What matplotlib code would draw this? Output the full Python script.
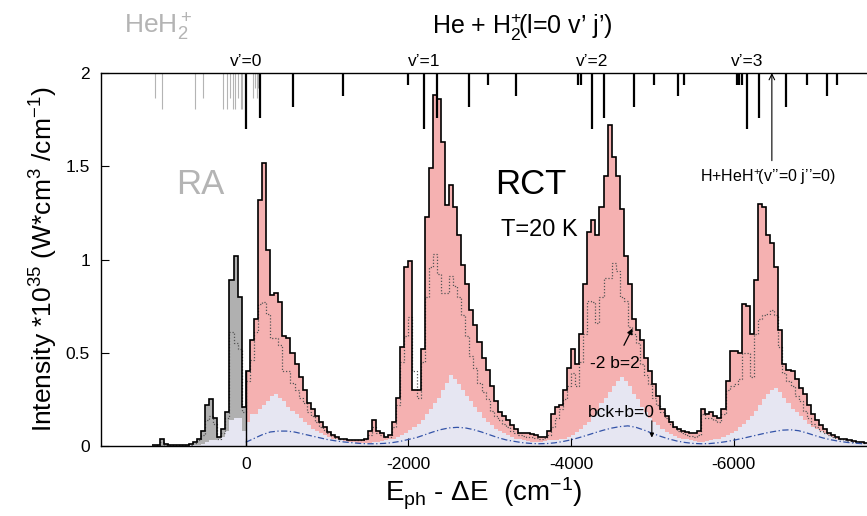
import numpy as np
import matplotlib
matplotlib.use("Agg")
import matplotlib.pyplot as plt
from matplotlib.transforms import blended_transform_factory

plt.rcParams["font.family"] = ["Liberation Sans", "DejaVu Sans"]
plt.rcParams["mathtext.fontset"] = "custom"
plt.rcParams["mathtext.rm"] = "Liberation Sans"
plt.rcParams["mathtext.it"] = "Liberation Sans:italic"
plt.rcParams["mathtext.bf"] = "Liberation Sans:bold"
plt.rcParams["axes.unicode_minus"] = False

BIN = 50  # cm-1

# RA (HeH2+) histogram, bins going up from 0: [0,50], [50,100], ...
ra_total = [0.21, 0.80, 1.02, 0.89, 0.18, 0.09, 0.05, 0.15, 0.25, 0.22, 0.08, 0.04,
            0.02, 0.01, 0.008, 0.006, 0.006, 0.005, 0.005, 0.01, 0.035, 0.005, 0.003]
ra_b2 = [0.18, 0.52, 0.55, 0.61, 0.15, 0.07, 0.04, 0.12, 0.16, 0.14, 0.06, 0.03,
         0.015, 0.008, 0.006, 0.005, 0.005, 0.004, 0.004, 0.006, 0.02, 0.004, 0.002]
ra_bck = [0.08, 0.15, 0.15, 0.14, 0.08, 0.05, 0.04, 0.03, 0.03, 0.02, 0.01, 0.005,
          0.004, 0.003, 0.002, 0.002, 0.002, 0.002, 0.002, 0.002, 0.002, 0.001, 0.001]

# RCT histogram, bins going down from 0: [0,-50], [-50,-100], ...
rct_total = [
    0.40, 0.57, 0.68, 1.32, 1.52, 1.05, 0.81, 0.82, 0.77, 0.59,
    0.58, 0.50, 0.44, 0.37, 0.30, 0.23, 0.20, 0.16, 0.13, 0.10,
    0.075, 0.06, 0.05, 0.04, 0.035, 0.03, 0.03, 0.03, 0.03, 0.04,
    0.08, 0.14, 0.08, 0.07, 0.05, 0.06, 0.13, 0.26, 0.53, 0.96,
    0.99, 0.30, 0.30, 0.52, 1.23, 1.49, 1.88, 1.86, 1.63, 1.29,
    1.40, 1.28, 1.13, 0.97, 0.87, 0.73, 0.65, 0.56, 0.47, 0.41,
    0.32, 0.24, 0.18, 0.16, 0.14, 0.11, 0.09, 0.07, 0.07, 0.07,
    0.065, 0.06, 0.05, 0.05, 0.08, 0.17, 0.21, 0.22, 0.30, 0.42,
    0.52, 0.44, 0.60, 0.87, 1.15, 1.21, 1.13, 1.28, 1.45, 1.72,
    1.55, 1.45, 1.27, 1.02, 0.87, 0.68, 0.62, 0.57, 0.47, 0.40,
    0.33, 0.27, 0.20, 0.16, 0.13, 0.10, 0.09, 0.08, 0.075, 0.07,
    0.07, 0.08, 0.20, 0.17, 0.18, 0.16, 0.15, 0.20, 0.35, 0.51,
    0.51, 0.50, 0.76, 0.75, 0.60, 0.89, 1.30, 1.28, 1.13, 1.09,
    0.96, 0.62, 0.44, 0.41, 0.40, 0.36, 0.31, 0.28, 0.22, 0.17,
    0.14, 0.11, 0.09, 0.07, 0.06, 0.05, 0.04, 0.035, 0.03, 0.025,
    0.02, 0.02, 0.015,
]
rct_b2 = [
    0.35, 0.46, 0.61, 0.76, 0.77, 0.71, 0.58, 0.58, 0.54, 0.40,
    0.40, 0.34, 0.30, 0.26, 0.23, 0.18, 0.16, 0.13, 0.10, 0.085,
    0.07, 0.055, 0.045, 0.04, 0.035, 0.03, 0.03, 0.03, 0.03, 0.035,
    0.06, 0.10, 0.07, 0.06, 0.05, 0.05, 0.10, 0.22, 0.45, 0.59,
    0.69, 0.40, 0.26, 0.45, 0.80, 0.96, 1.03, 0.92, 0.82, 0.82,
    0.91, 0.86, 0.80, 0.70, 0.59, 0.48, 0.42, 0.34, 0.29, 0.25,
    0.19, 0.16, 0.14, 0.12, 0.10, 0.08, 0.07, 0.06, 0.055, 0.05,
    0.05, 0.045, 0.04, 0.045, 0.06, 0.10, 0.15, 0.20, 0.25, 0.32,
    0.39, 0.32, 0.45, 0.60, 0.78, 0.77, 0.66, 0.80, 0.90, 0.90,
    0.98, 0.94, 0.80, 0.78, 0.64, 0.60, 0.55, 0.44, 0.38, 0.33,
    0.26, 0.22, 0.18, 0.15, 0.12, 0.10, 0.08, 0.07, 0.06, 0.055,
    0.05, 0.06, 0.17, 0.15, 0.15, 0.14, 0.13, 0.17, 0.30, 0.32,
    0.33, 0.36, 0.50, 0.50, 0.37, 0.60, 0.68, 0.70, 0.71, 0.73,
    0.70, 0.53, 0.39, 0.35, 0.32, 0.27, 0.24, 0.19, 0.15, 0.12,
    0.10, 0.08, 0.07, 0.06, 0.05, 0.045, 0.04, 0.03, 0.025, 0.02,
    0.02, 0.015, 0.015,
]
rct_bck = [
    0.13, 0.17, 0.17, 0.20, 0.22, 0.24, 0.27, 0.28, 0.26, 0.24,
    0.21, 0.19, 0.17, 0.15, 0.13, 0.11, 0.09, 0.08, 0.07, 0.06,
    0.05, 0.04, 0.035, 0.03, 0.025, 0.02, 0.02, 0.015, 0.015, 0.015,
    0.015, 0.02, 0.02, 0.025, 0.03, 0.035, 0.04, 0.05, 0.06, 0.07,
    0.085, 0.10, 0.12, 0.14, 0.17, 0.20, 0.23, 0.26, 0.30, 0.34,
    0.38, 0.36, 0.33, 0.30, 0.27, 0.24, 0.21, 0.18, 0.15, 0.13,
    0.11, 0.09, 0.08, 0.07, 0.06, 0.05, 0.04, 0.035, 0.03, 0.025,
    0.02, 0.02, 0.02, 0.025, 0.03, 0.03, 0.03, 0.035, 0.04, 0.05,
    0.06, 0.075, 0.09, 0.11, 0.13, 0.16, 0.19, 0.23, 0.26, 0.29,
    0.32, 0.35, 0.37, 0.35, 0.32, 0.28, 0.25, 0.21, 0.18, 0.15,
    0.13, 0.11, 0.09, 0.075, 0.065, 0.055, 0.045, 0.04, 0.035, 0.03,
    0.025, 0.02, 0.02, 0.025, 0.03, 0.035, 0.04, 0.05, 0.06, 0.07,
    0.08, 0.10, 0.12, 0.14, 0.16, 0.19, 0.22, 0.25, 0.28, 0.30,
    0.31, 0.29, 0.26, 0.23, 0.20, 0.18, 0.16, 0.14, 0.12, 0.10,
    0.09, 0.08, 0.07, 0.06, 0.05, 0.04, 0.035, 0.03, 0.025, 0.02,
    0.02, 0.015, 0.015,
]

# bck+b=0 curve (dash-dot), every 100 cm-1 from 0 down
b0_energy = list(range(0, -7700, -100))
b0_value = [
    0.02, 0.04, 0.06, 0.075, 0.08, 0.08, 0.075, 0.065, 0.055, 0.045,
    0.035, 0.028, 0.022, 0.018, 0.014, 0.012, 0.012, 0.014, 0.018, 0.025,
    0.035, 0.045, 0.06, 0.075, 0.088, 0.097, 0.10, 0.097, 0.088, 0.075,
    0.06, 0.045, 0.033, 0.025, 0.018, 0.014, 0.012, 0.013, 0.017, 0.024,
    0.033, 0.045, 0.058, 0.072, 0.085, 0.096, 0.104, 0.108, 0.10, 0.085,
    0.068, 0.052, 0.038, 0.027, 0.019, 0.014, 0.012, 0.013, 0.017, 0.023,
    0.031, 0.04, 0.05, 0.06, 0.07, 0.078, 0.085, 0.087, 0.082, 0.07,
    0.056, 0.043, 0.033, 0.025, 0.019, 0.015, 0.012,
]

# level sticks hanging from the top frame
rct_lines_E = [0, -175, -575, -1190, -2000, -2190, -2350, -2740, -2985, -3320,
               -4085, -4120, -4255, -4410, -4770, -5025, -5310, -5385,
               -6040, -6070, -6100, -6160, -6315, -6640, -6905, -7145, -7275]
rct_lines_y = [1.70, 1.757, 1.816, 1.877, 1.936, 1.70, 1.757, 1.816, 1.936, 1.877,
               1.936, 1.936, 1.70, 1.757, 1.816, 1.936, 1.877, 1.936,
               1.936, 1.936, 1.936, 1.70, 1.757, 1.816, 1.936, 1.877, 1.936]
ra_lines_E = [1120, 1035, 630, 520, 280, 230, 190, 160, 130, 100, 60, 40,
              -95, -115, -140, -155]
ra_lines_y = [1.864, 1.805, 1.805, 1.864, 1.805, 1.805, 1.864, 1.805, 1.805,
              1.864, 1.805, 1.805, 1.864, 1.918, 1.864, 1.918]
vib_labels = ["v’=0", "v’=1", "v’=2", "v’=3"]
vib_E = [0, -2190, -4255, -6160]

PINK = "#f5b1b1"
GRAY = "#b0b0b0"
LAV = "#e6e6f2"
BLUE = "#3353a8"
DOT = "#555555"
LIGHT = "#b4b4b4"

# edges (increasing) for each block
ra_edges = BIN * np.arange(len(ra_total) + 1)
rct_edges = -BIN * np.arange(len(rct_total) + 1)[::-1]
rct_tot = np.array(rct_total)[::-1]
rct_2 = np.array(rct_b2)[::-1]
rct_bk = np.array(rct_bck)[::-1]

all_edges = np.concatenate([rct_edges, ra_edges[1:]])
all_tot = np.concatenate([rct_tot, ra_total])
all_b2 = np.concatenate([rct_2, ra_b2])
all_bck = np.concatenate([rct_bk, ra_bck])

fig = plt.figure(figsize=(8.67, 5.16), dpi=100)
ax = fig.add_axes([101 / 867, 70 / 516, 766 / 867, 373 / 516])

ax.stairs(ra_total, ra_edges, fill=True, color=GRAY, lw=0)
ax.stairs(rct_tot, rct_edges, fill=True, color=PINK, lw=0)
ax.stairs(all_bck, all_edges, fill=True, color=LAV, lw=0)
ax.stairs(all_b2, all_edges, color=DOT, lw=0.9, ls=(0, (1, 1.5)), baseline=None)
ax.plot(b0_energy, b0_value, color=BLUE, lw=0.9, ls=(0, (5, 2, 1, 2)))
ax.stairs(all_tot, all_edges, color="black", lw=1.2, baseline=None)
ax.vlines(0, 0, rct_total[0], color="black", lw=1.0)

ax.vlines(ra_lines_E, ra_lines_y, 2, color=LIGHT, lw=0.8)
ax.vlines(rct_lines_E, rct_lines_y, 2, color="black", lw=1.6)

ax.set_xlim(1780, -7640)
ax.set_ylim(0, 2)
ax.set_xticks([0, -2000, -4000, -6000])
ax.set_xticklabels(["0", "-2000", "-4000", "-6000"])
ax.set_yticks([0, 0.5, 1, 1.5, 2])
ax.set_yticklabels(["0", "0.5", "1", "1.5", "2"])
ax.tick_params(direction="in", length=6, labelsize=12.5, width=0.8, pad=8)
ax.spines["right"].set_visible(False)
for s in ("left", "top", "bottom"):
    ax.spines[s].set_linewidth(1.0)

ax.set_xlabel("E$_{\\rm ph}$ - ΔE  (cm$^{-1}$)", fontsize=20, labelpad=3)
ax.set_ylabel("Intensity *10$^{35}$ (W*cm$^3$ /cm$^{-1}$)", fontsize=19, labelpad=4)

trans = blended_transform_factory(ax.transData, ax.transAxes)
for lab, e in zip(vib_labels, vib_E):
    ax.text(e, 1.01, lab, transform=trans, ha="center", va="bottom", fontsize=12.5)

fig.text(158 / 867, 1 - 27 / 516, "HeH$_2^+$", color=LIGHT, fontsize=19,
         ha="center", va="center")
fig.text(522 / 867, 1 - 27 / 516, "He + H$_2^{+}\\!$(l=0 v’ j’)", fontsize=18,
         ha="center", va="center")

ax.text(-6418, 1.44, "H+HeH$^{+}\\!$(v’’=0 j’’=0)", ha="center", va="center",
        fontsize=11.5)
ax.text(560, 1.40, "RA", color=LIGHT, fontsize=25, ha="center", va="center")
ax.text(-3510, 1.40, "RCT", fontsize=25, ha="center", va="center")
ax.text(-3610, 1.16, "T=20 K", fontsize=17, ha="center", va="center")

ax.annotate("", xy=(-6470, 2.0), xytext=(-6470, 1.53),
            arrowprops=dict(arrowstyle="->", color="black", lw=0.8,
                            shrinkA=0, shrinkB=0))
ax.annotate("-2 b=2", xy=(-4756, 0.63), xytext=(-4540, 0.445),
            ha="center", va="center", fontsize=12.5,
            arrowprops=dict(arrowstyle="-|>", color="black", lw=0.9,
                            mutation_scale=8, shrinkA=6, shrinkB=0))
ax.text(-4625, 0.18, "bck+b=0", ha="center", va="center", fontsize=12.5)
ax.annotate("", xy=(-4994, 0.045), xytext=(-4994, 0.135),
            arrowprops=dict(arrowstyle="-|>", color="black", lw=0.8,
                            mutation_scale=6, shrinkA=0, shrinkB=0))

fig.savefig("out.png", dpi=100)
